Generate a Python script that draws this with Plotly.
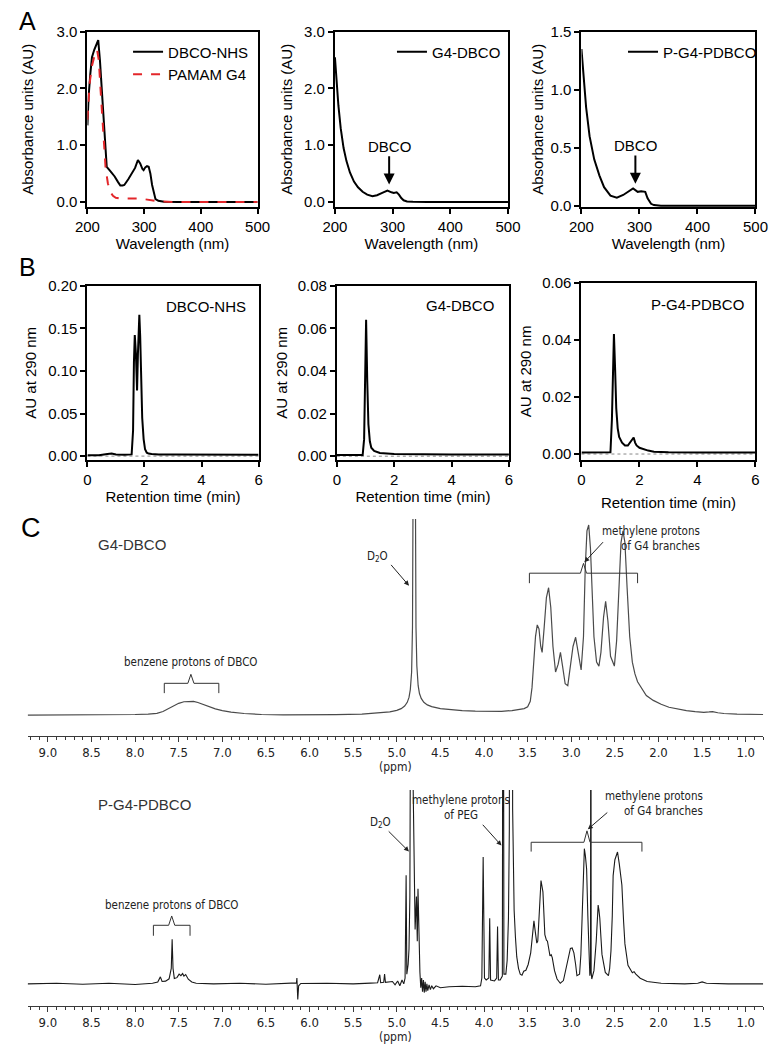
import plotly.graph_objects as go

FONT = "Liberation Sans, Arial, Helvetica, sans-serif"
NARROW = "Liberation Sans Narrow, Arial Narrow, DejaVu Sans Condensed, sans-serif"

# ---------------- DATA ----------------
# Panel A: UV-vis spectra (wavelength nm, absorbance AU)
a1_nhs_x = [200, 202, 205, 208, 212, 216, 219, 222, 225, 228, 231, 234, 240, 248, 254, 258, 262, 265,
            272, 278, 284, 289, 293, 297, 299, 302, 305, 308, 311, 314, 317, 320, 325, 335, 360, 400, 450, 500]
a1_nhs_y = [1.35, 1.85, 2.25, 2.55, 2.68, 2.8, 2.85, 2.5, 2.0, 1.45, 0.95, 0.62, 0.55, 0.45, 0.35, 0.29,
            0.29, 0.30, 0.40, 0.50, 0.60, 0.74, 0.68, 0.58, 0.56, 0.61, 0.63, 0.62, 0.50, 0.30, 0.15,
            0.05, 0.02, 0.005, 0.0, 0.0, 0.0, 0.0]
a1_g4_x = [200, 204, 208, 213, 217, 220, 223, 226, 229, 232, 236, 240, 245, 250, 258, 270, 280, 290,
           300, 310, 320, 330, 350, 400, 450, 500]
a1_g4_y = [1.45, 2.1, 2.4, 2.6, 2.68, 2.5, 2.0, 1.5, 1.0, 0.6, 0.33, 0.18, 0.11, 0.075, 0.06, 0.06,
           0.07, 0.06, 0.05, 0.03, 0.02, 0.01, 0.0, 0.0, 0.0, 0.0]
a2_x = [200, 203, 206, 210, 215, 220, 226, 233, 240, 248, 256, 265, 273, 282, 291, 298, 302, 307,
        311, 315, 319, 325, 335, 360, 400, 450, 500]
a2_y = [2.55, 2.1, 1.7, 1.3, 0.95, 0.72, 0.52, 0.36, 0.26, 0.18, 0.13, 0.10, 0.12, 0.16, 0.20, 0.17,
        0.16, 0.17, 0.13, 0.07, 0.03, 0.01, 0.003, 0.0, 0.0, 0.0, 0.0]
a3_x = [200, 203, 208, 214, 222, 231, 239, 250, 261, 272, 281, 289, 297, 303, 310, 314, 320, 325,
        337, 360, 400, 450, 500]
a3_y = [1.35, 1.13, 0.85, 0.60, 0.40, 0.26, 0.16, 0.087, 0.07, 0.093, 0.12, 0.15, 0.12, 0.126, 0.12,
        0.065, 0.017, 0.006, 0.0, 0.0, 0.0, 0.0, 0.0]
a_xticks = [200, 300, 400, 500]
a12_yticks = [0, 1, 2, 3]
a12_ylabels = ["0.0", "1.0", "2.0", "3.0"]
a3_yticks = [0, 0.5, 1.0, 1.5]
a3_ylabels = ["0.0", "0.5", "1.0", "1.5"]

# Panel B: HPLC traces (retention time min, AU at 290 nm)
b1_x = [0, 0.4, 0.7, 0.85, 1.0, 1.3, 1.55, 1.6, 1.63, 1.66, 1.7, 1.74, 1.77, 1.82, 1.85, 1.88, 1.92,
        1.97, 2.02, 2.08, 2.14, 2.25, 2.5, 3.0, 4.0, 5.0, 6.0]
b1_y = [0.001, 0.001, 0.0025, 0.003, 0.002, 0.0015, 0.002, 0.03, 0.11, 0.142, 0.12, 0.077, 0.12,
        0.166, 0.14, 0.09, 0.045, 0.02, 0.008, 0.004, 0.003, 0.0025, 0.002, 0.002, 0.002, 0.0015, 0.0015]
b2_x = [0, 0.5, 0.9, 0.95, 0.98, 1.02, 1.06, 1.1, 1.15, 1.2, 1.3, 1.5, 2.0, 3.0, 4.0, 5.0, 6.0]
b2_y = [0.0005, 0.0005, 0.0006, 0.008, 0.04, 0.064, 0.035, 0.015, 0.007, 0.004, 0.0025, 0.0015,
        0.001, 0.0008, 0.0008, 0.0008, 0.0008]
b3_x = [0, 0.5, 1.0, 1.05, 1.08, 1.12, 1.16, 1.2, 1.25, 1.3, 1.4, 1.5, 1.6, 1.7, 1.75, 1.8, 1.85,
        1.9, 2.0, 2.1, 2.2, 2.3, 2.5, 3.0, 4.0, 5.0, 6.0]
b3_y = [0.0005, 0.0005, 0.0006, 0.012, 0.03, 0.042, 0.03, 0.016, 0.009, 0.006, 0.004, 0.003, 0.003,
        0.0045, 0.0055, 0.0058, 0.004, 0.003, 0.0022, 0.0018, 0.0014, 0.0012, 0.0008, 0.0006,
        0.0005, 0.0005, 0.0005]
b_xticks = [0, 2, 4, 6]
b1_yticks = [0, 0.05, 0.10, 0.15, 0.20]
b1_ylabels = ["0.00", "0.05", "0.10", "0.15", "0.20"]
b2_yticks = [0, 0.02, 0.04, 0.06, 0.08]
b2_ylabels = ["0.00", "0.02", "0.04", "0.06", "0.08"]
b3_yticks = [0, 0.02, 0.04, 0.06]
b3_ylabels = ["0.00", "0.02", "0.04", "0.06"]

# Panel C: 1H NMR (ppm, relative intensity)
c1_ppm = [9.23, 8.8, 8.4, 8.0, 7.85, 7.75, 7.68, 7.62, 7.56, 7.5, 7.44, 7.38, 7.33, 7.28, 7.22, 7.15,
          7.08, 7.0, 6.9, 6.75, 6.55, 6.3, 6.0, 5.7, 5.4, 5.2, 5.08, 5.0, 4.95, 4.91, 4.88, 4.86,
          4.845, 4.83, 4.82, 4.81, 4.80, 4.79, 4.78, 4.77, 4.755, 4.74, 4.72, 4.69, 4.65, 4.6, 4.5,
          4.4, 4.25, 4.1, 3.95, 3.8, 3.68, 3.6, 3.54, 3.5, 3.47, 3.45, 3.43, 3.41, 3.39, 3.37, 3.35,
          3.334, 3.31, 3.285, 3.26, 3.235, 3.21, 3.18, 3.15, 3.124, 3.1, 3.07, 3.04, 3.01, 2.98,
          2.95, 2.92, 2.887, 2.86, 2.84, 2.82, 2.80, 2.78, 2.76, 2.74, 2.71, 2.683, 2.66, 2.63,
          2.606, 2.58, 2.55, 2.506, 2.48, 2.45, 2.43, 2.407, 2.385, 2.36, 2.33, 2.30, 2.27, 2.24,
          2.2, 2.14, 2.06, 1.97, 1.88, 1.78, 1.68, 1.58, 1.48, 1.42, 1.38, 1.32, 1.25, 1.1, 0.95, 0.8]
c1_int = [0, 0, 0.2, 0.3, 0.5, 0.9, 1.8, 3.2, 4.8, 6.0, 6.8, 7.1, 7.0, 6.4, 5.4, 4.3,
          3.2, 2.3, 1.5, 0.8, 0.3, 0.1, 0, 0.2, 0.5, 1.0, 1.6, 2.4, 3.3, 4.6, 6.5, 9,
          13, 22, 45, 150, 400, 150, 45, 25, 15, 11, 8.5, 6.5, 5.2, 4.3, 3.3,
          2.8, 2.3, 2.0, 1.8, 1.9, 2.3, 2.8, 3.3, 4.2, 7, 14, 28, 40, 46, 44, 35,
          32, 45, 60, 65, 55, 35, 22, 26, 32, 25, 16, 15, 24, 35,
          39.7, 32, 23, 40, 75, 94, 97, 85, 60, 40, 27, 25, 32, 50,
          58, 48, 30, 25, 38, 70, 88, 94, 88, 65, 40, 27, 21, 17,
          14, 10, 7.5, 5.5, 4, 3, 2.3, 1.8, 1.4, 1.6, 1.8, 1.2, 0.8, 0.5, 0.3, 0.3]

c2_ppm = [9.23, 8.9, 8.6, 8.3, 8.0, 7.8, 7.74, 7.71, 7.69, 7.65, 7.61, 7.585, 7.575, 7.565, 7.55, 7.52,
          7.495, 7.475, 7.455, 7.44, 7.42, 7.39, 7.35, 7.3, 7.1, 6.8, 6.5, 6.2, 6.15, 6.145, 6.135,
          6.125, 6.1, 5.8, 5.5, 5.3, 5.22, 5.195, 5.185, 5.15, 5.14, 5.13, 5.05, 5.02, 4.99, 4.965,
          4.94, 4.92, 4.905, 4.893, 4.885, 4.87, 4.86, 4.85, 4.845, 4.835, 4.825, 4.815, 4.80, 4.79,
          4.775, 4.765, 4.757, 4.745, 4.735, 4.725, 4.715, 4.705, 4.695, 4.685, 4.675, 4.665, 4.655,
          4.645, 4.63, 4.615, 4.6, 4.58, 4.55, 4.5, 4.4, 4.25, 4.1, 4.04, 4.025, 4.01, 3.995, 3.975,
          3.945, 3.935, 3.925, 3.88, 3.855, 3.845, 3.835, 3.815, 3.79, 3.781, 3.772, 3.75, 3.735,
          3.72, 3.71, 3.70, 3.685, 3.672, 3.665, 3.655, 3.64, 3.625, 3.605, 3.585, 3.565, 3.545,
          3.52, 3.494, 3.465, 3.445, 3.428, 3.41, 3.395, 3.384, 3.365, 3.347, 3.325, 3.303, 3.285,
          3.273, 3.244, 3.23, 3.218, 3.205, 3.192, 3.163, 3.126, 3.09, 3.05, 3.01, 2.99, 2.97, 2.95,
          2.935, 2.905, 2.89, 2.876, 2.86, 2.85, 2.838, 2.824, 2.81, 2.80, 2.787, 2.779, 2.776,
          2.772, 2.765, 2.74, 2.714, 2.692, 2.683, 2.673, 2.66, 2.648, 2.61, 2.574, 2.56, 2.545,
          2.53, 2.52, 2.5, 2.47, 2.45, 2.42, 2.40, 2.385, 2.35, 2.30, 2.28, 2.26, 2.21, 2.13, 1.97,
          1.7, 1.55, 1.5, 1.45, 1.2, 0.8]
c2_int = [0, 0.3, -0.2, 0.3, -0.3, 0.3, 1.0, 3.6, 1.2, 1.4, 2.6, 8, 23, 8, 2.8, 3.2,
          5.0, 4.2, 5.3, 4.0, 4.8, 2.4, 1.0, 0.3, 0, 0.3, -0.2, 0.2, 0.5, 3, -8,
          -1, 0.2, 0.3, 0, 0.4, 0.6, 4.7, 0.6, 0.8, 5, 0.8, 1.2, -0.5, 1.5, -1.0,
          2.0, 0, 3, 56, 5, 10, 18, 45, 400, 120, 400, 110, 66, 28,
          45, 22, 49, 12, 6, -2, 3, -4, 2, -4.5, 1, -4, 0,
          -3.5, -0.5, -3, -1, -2.5, -1, -2, -1.5, -1.2, -1.5, -1, 3, 65.4, 3, 2,
          3, 33.8, 2, 1.5, 3, 29.6, 2, 2, 4, 300, 5, 5, 12,
          34, 80, 400, 500, 90, 55, 38, 24, 14, 8, 5, 4.5, 6.5,
          7, 10, 16, 25, 32.5, 26, 21, 22, 40.6, 53.3, 47.4, 25.4, 22.5,
          22, 14.4, 15, 13.5, 10, 6.8, 2.5, 0.3, 1.7, 10, 18.3, 18.5, 16, 10,
          4.2, 5, 15, 33.8, 60, 69.7, 66, 59.2, 35, 16.9, 4.2, 8, 300,
          6, 2.5, 6.8, 22, 40.6, 38, 33.8, 24, 15.2, 5.9, 4.2, 8, 16.9,
          35, 55.8, 64, 68, 62, 51, 32, 20.6, 9.6, 5.7, 6.3, 5.0, 2.9, 1.2, 0.3,
          0, 0.3, 1.0, 0.3, 0, 0]

c_xticks = [9.0, 8.5, 8.0, 7.5, 7.0, 6.5, 6.0, 5.5, 5.0, 4.5, 4.0, 3.5, 3.0, 2.5, 2.0, 1.5, 1.0]
c_xlabels = ["9.0", "8.5", "8.0", "7.5", "7.0", "6.5", "6.0", "5.5", "5.0", "4.5", "4.0", "3.5",
             "3.0", "2.5", "2.0", "1.5", "1.0"]

# NMR brackets: (left ppm, right ppm, centre ppm, level, end level, spike level)
c1_brackets = [(7.665, 7.04, 7.36, 16.2, 11.2, 20.8), (3.48, 2.24, 2.86, 72.4, 67.3, 77.4)]
c2_brackets = [(7.79, 7.37, 7.58, 30.2, 24.8, 35.0), (3.46, 2.19, 2.82, 73.0, 68.2, 78.9)]

# ---------------- FIGURE ----------------
W, H = 782, 1050


def dom_x(a, b):
    return [a / W, b / W]


def dom_y(top, bottom):
    return [1 - bottom / H, 1 - top / H]


fig = go.Figure()

black = dict(color="black", width=2)
fig.add_trace(go.Scatter(x=a1_nhs_x, y=a1_nhs_y, mode="lines", line=black, name="DBCO-NHS",
                         xaxis="x", yaxis="y", legend="legend"))
fig.add_trace(go.Scatter(x=a1_g4_x, y=a1_g4_y, mode="lines",
                         line=dict(color="#e3262a", width=2, dash="dash"), name="PAMAM G4",
                         xaxis="x", yaxis="y", legend="legend"))
fig.add_trace(go.Scatter(x=a2_x, y=a2_y, mode="lines", line=black, name="G4-DBCO",
                         xaxis="x2", yaxis="y2", legend="legend2"))
fig.add_trace(go.Scatter(x=a3_x, y=a3_y, mode="lines", line=black, name="P-G4-PDBCO",
                         xaxis="x3", yaxis="y3", legend="legend3"))
for xs, ys, k in [(b1_x, b1_y, 4), (b2_x, b2_y, 5), (b3_x, b3_y, 6)]:
    fig.add_trace(go.Scatter(x=xs, y=ys, mode="lines", line=black, showlegend=False,
                             xaxis=f"x{k}", yaxis=f"y{k}"))
fig.add_trace(go.Scatter(x=c1_ppm, y=c1_int, mode="lines", line=dict(color="#4a4a4a", width=1.2),
                         showlegend=False, xaxis="x7", yaxis="y7"))
fig.add_trace(go.Scatter(x=c2_ppm, y=c2_int, mode="lines", line=dict(color="#1a1a1a", width=1.1),
                         showlegend=False, xaxis="x8", yaxis="y8"))


def framed(**kw):
    d = dict(showline=True, linecolor="black", linewidth=2, mirror=True, ticks="outside",
             ticklen=5, tickwidth=2, tickcolor="black", showgrid=False, zeroline=False,
             tickfont=dict(family=FONT, size=15, color="black"),
             title_font=dict(family=FONT, size=15, color="black"))
    d.update(kw)
    return d


layout = dict(
    width=W, height=H, margin=dict(l=0, r=0, t=0, b=0),
    paper_bgcolor="white", plot_bgcolor="white",
    font=dict(family=FONT, color="black"),
    # Panel A
    xaxis=framed(domain=dom_x(77, 253), range=[200, 500], anchor="y", tickvals=a_xticks,
                 title=dict(text="Wavelength (nm)", standoff=4)),
    yaxis=framed(domain=dom_y(23, 201), range=[-0.087, 3.0], anchor="x", tickvals=a12_yticks,
                 ticktext=a12_ylabels, title=dict(text="Absorbance units (AU)", standoff=19)),
    xaxis2=framed(domain=dom_x(333, 512), range=[200, 500], anchor="y2", tickvals=a_xticks,
                  title=dict(text="Wavelength (nm)", standoff=4)),
    yaxis2=framed(domain=dom_y(23, 201), range=[-0.087, 3.0], anchor="x2", tickvals=a12_yticks,
                  ticktext=a12_ylabels, title=dict(text="Absorbance units (AU)", standoff=8)),
    xaxis3=framed(domain=dom_x(588, 768), range=[200, 500], anchor="y3", tickvals=a_xticks,
                  title=dict(text="Wavelength (nm)", standoff=4)),
    yaxis3=framed(domain=dom_y(23, 201), range=[-0.01, 1.5], anchor="x3", tickvals=a3_yticks,
                  ticktext=a3_ylabels, title=dict(text="Absorbance units (AU)", standoff=3)),
    # Panel B
    xaxis4=framed(domain=dom_x(77, 254), range=[0, 6], anchor="y4", tickvals=b_xticks,
                  title=dict(text="Retention time (min)", standoff=4)),
    yaxis4=framed(domain=dom_y(281, 458), range=[-0.0046, 0.2], anchor="x4", tickvals=b1_yticks,
                  ticktext=b1_ylabels, title=dict(text="AU at 290 nm", standoff=8)),
    xaxis5=framed(domain=dom_x(335, 513), range=[0, 6], anchor="y5", tickvals=b_xticks,
                  title=dict(text="Retention time (min)", standoff=4)),
    yaxis5=framed(domain=dom_y(281, 458), range=[-0.0018, 0.08], anchor="x5", tickvals=b2_yticks,
                  ticktext=b2_ylabels, title=dict(text="AU at 290 nm", standoff=6)),
    xaxis6=framed(domain=dom_x(588, 768), range=[0, 6], anchor="y6", tickvals=b_xticks,
                  title=dict(text="Retention time (min)", standoff=10)),
    yaxis6=framed(domain=dom_y(278, 458), range=[-0.0021, 0.06], anchor="x6", tickvals=b3_yticks,
                  ticktext=b3_ylabels, title=dict(text="AU at 290 nm", standoff=7)),
)

nmr_x = dict(range=[9.233, 0.80], showline=True, linecolor="#3a3a3a", linewidth=1, mirror=False,
             ticks="outside", ticklen=5, tickwidth=1, tickcolor="#3a3a3a", showgrid=False,
             zeroline=False, tickvals=c_xticks, ticktext=c_xlabels,
             tickfont=dict(family=NARROW, size=13, color="#222"),
             minor=dict(ticks="outside", ticklen=3, tickwidth=1, tickcolor="#3a3a3a",
                        dtick=0.1, tick0=0),
             title=dict(text="(ppm)", standoff=0, font=dict(family=NARROW, size=12, color="#222")))
layout["xaxis7"] = dict(nmr_x, domain=dom_x(15, 776), anchor="y7")
layout["yaxis7"] = dict(domain=dom_y(518, 738), range=[-10.55, 100], anchor="x7", visible=False)
layout["xaxis8"] = dict(nmr_x, domain=dom_x(15, 776), anchor="y8")
layout["yaxis8"] = dict(domain=dom_y(793, 1012), range=[-11.2, 100], anchor="x8", visible=False)

leg = dict(xanchor="left", yanchor="top", bgcolor="rgba(0,0,0,0)", tracegroupgap=0,
           itemwidth=30, font=dict(family=FONT, size=15, color="black"))
layout["legend"] = dict(leg, x=119 / W, y=1 - 27 / H)
layout["legend2"] = dict(leg, x=392 / W, y=1 - 27 / H)
layout["legend3"] = dict(leg, x=631 / W, y=1 - 27 / H)

fig.update_layout(**layout)

# zero dotted lines in HPLC panels
for k in (4, 5, 6):
    fig.add_shape(type="line", xref=f"x{k} domain", yref=f"y{k}", x0=0, x1=1, y0=0, y1=0,
                  line=dict(color="#888", width=1, dash="dot"), layer="below")

# brackets in NMR panels
for brs, k in [(c1_brackets, 7), (c2_brackets, 8)]:
    for (l, r, c, lev, end, sp) in brs:
        path = (f"M {l},{end} L {l},{lev} L {c + 0.035},{lev} L {c},{sp} "
                f"L {c - 0.035},{lev} L {r},{lev} L {r},{end}")
        fig.add_shape(type="path", xref=f"x{k}", yref=f"y{k}", path=path,
                      line=dict(color="#333", width=1))

ann = []
# panel letters
for txt, x, y, s in [("A", 4, 12, 25), ("B", 4, 262, 25), ("C", 6, 527, 27)]:
    ann.append(dict(text=txt, x=x / W, y=1 - y / H, xref="paper", yref="paper", showarrow=False,
                    xanchor="left", yanchor="middle", font=dict(family=FONT, size=s, color="black")))
# DBCO arrows in panel A
for xr, yr, xt, ytip, ytxt in [("x2", "y2", 294, 0.31, 0.98), ("x3", "y3", 293, 0.19, 0.52)]:
    ann.append(dict(text="DBCO", x=xt, y=ytip, xref=xr, yref=yr, ax=xt, ay=ytxt, axref=xr,
                    ayref=yr, showarrow=True, arrowhead=2, arrowsize=1.1, arrowwidth=2,
                    arrowcolor="black", font=dict(family=FONT, size=15, color="black")))
# HPLC labels
for txt, k, xd, yd in [("DBCO-NHS", 4, 0.938, 0.881), ("G4-DBCO", 5, 0.927, 0.887),
                       ("P-G4-PDBCO", 6, 0.944, 0.878)]:
    ann.append(dict(text=txt, x=xd, y=yd, xref=f"x{k} domain", yref=f"y{k} domain",
                    showarrow=False, xanchor="right", yanchor="middle",
                    font=dict(family=FONT, size=15, color="black")))

small = dict(family=NARROW, size=11.5, color="#222")
big = dict(family=FONT, size=15, color="#333")
# NMR text labels: (text, x, y, xanchor, font, axis index)
nmr_text = [
    ("G4-DBCO", 8.45, 87.0, "left", big, 7),
    ("D<sub>2</sub>O", 5.22, 81.0, "center", small, 7),
    ("benzene protons of DBCO", 7.36, 27.1, "center", small, 7),
    ("methylene protons<br>of G4 branches", 1.5, 90.3, "right", small, 7),
    ("P-G4-PDBCO", 8.45, 92.4, "left", big, 8),
    ("benzene protons of DBCO", 7.58, 40.9, "center", small, 8),
    ("D<sub>2</sub>O", 5.19, 83.4, "center", small, 8),
    ("methylene protons<br>of PEG", 4.26, 91.0, "center", small, 8),
    ("methylene protons<br>of G4 branches", 1.47, 92.8, "right", small, 8),
]
for txt, x, y, xa, f, k in nmr_text:
    ann.append(dict(text=txt, x=x, y=y, xref=f"x{k}", yref=f"y{k}", showarrow=False,
                    xanchor=xa, yanchor="middle", align=xa, font=f))
# NMR arrows: (tail ppm, tail int, tip ppm, tip int, axis)
nmr_arrows = [(5.08, 77.4, 4.86, 66.0, 7), (2.62, 89.0, 2.85, 78.0, 7),
              (5.11, 79.4, 4.86, 68.2, 8), (4.03, 82.8, 3.80, 71.3, 8), (2.57, 89.0, 2.81, 79.7, 8)]
for tx, ty, hx, hy, k in nmr_arrows:
    ann.append(dict(text="", x=hx, y=hy, ax=tx, ay=ty, xref=f"x{k}", yref=f"y{k}",
                    axref=f"x{k}", ayref=f"y{k}", showarrow=True, arrowhead=2, arrowsize=1,
                    arrowwidth=1, arrowcolor="#222"))

fig.update_layout(annotations=ann)
fig.write_html("out.html", config={"displayModeBar": False},
               post_script="document.body.style.margin='0px';document.body.style.overflow='hidden';")
